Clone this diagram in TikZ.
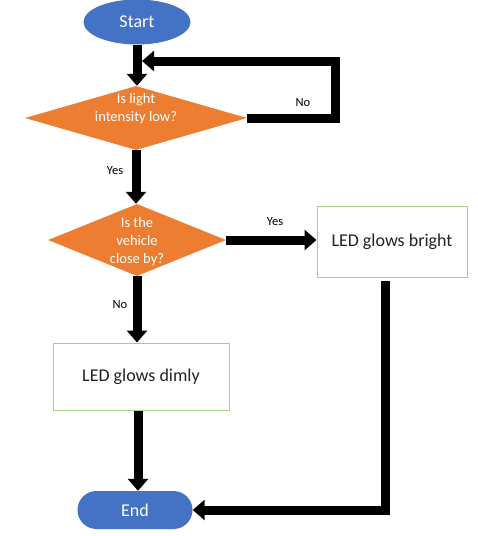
\documentclass[tikz,border=0pt]{standalone}
\usepackage{fontspec}
\setmainfont{Carlito}
\usetikzlibrary{shapes.geometric,arrows.meta}
\definecolor{termblue}{HTML}{4472C4}
\definecolor{decorange}{HTML}{ED7D31}
\definecolor{boxgreen}{HTML}{A3CF86}
\definecolor{boxtext}{HTML}{222222}
\tikzset{
  term/.style={fill=termblue,draw=none,text=white,font=\fontsize{18}{20}\selectfont},
  dia/.style={diamond,fill=decorange,draw=none,inner sep=0pt},
  diatext/.style={text=white,align=center,font=\fontsize{14.5}{18}\selectfont,inner sep=0pt},
  procbox/.style={rectangle,draw=boxgreen,line width=1pt,fill=white,text=boxtext,font=\fontsize{18}{20}\selectfont},
  conn/.style={line width=9pt,line join=miter,-{Triangle[width=20pt,length=12pt]}},
  lab/.style={font=\fontsize{12.5}{14}\selectfont,text=black,inner sep=0pt}
}
\begin{document}
\begin{tikzpicture}[x=1pt,y=-1pt]
\useasboundingbox (0,0) rectangle (478,536);
% nodes
\node[term,ellipse,minimum width=107pt,minimum height=45pt] (start) at (137,22) {Start};
\node[dia,minimum width=222pt,minimum height=64pt] (d1) at (136,118) {};
\node[diatext] (d1t) at (136,109) {Is light\\intensity low?};
\node[dia,minimum width=178pt,minimum height=72pt] (d2) at (137,240) {};
\node[diatext] (d2t) at (137,241.5) {Is the\\vehicle\\close by?};
\node[procbox,minimum width=150pt,minimum height=71pt] (bright) at (392,241.5) {LED glows bright};
\node[procbox,minimum width=176pt,minimum height=67pt] (dimly) at (141,376.5) {LED glows dimly};
\node[term,rectangle,rounded corners=19pt,minimum width=115pt,minimum height=38pt] (end) at (135,510) {End};
% helper coordinates
\coordinate (loopR) at (335,61);
\coordinate (loopend) at (142,61);
\coordinate (bdrop) at (385,281);
% connectors
\draw[conn] (start.south) -- (start.south |- d1.north);
\draw[conn] (d1.east) -| (loopR) -- (loopend);
\draw[conn] (d1.south) -- (d1.south |- d2.north);
\draw[conn] (d2.east) -- (d2.east -| bright.west);
\draw[conn] (d2.south) -- (d2.south |- dimly.north);
\draw[conn] ([xshift=-3pt]dimly.south) -- ([xshift=-3pt]dimly.south |- end.north);
\draw[conn] (bdrop) |- (end.east);
% labels
\node[lab] (lno1) at (303,103) {No};
\node[lab] (lyes1) at (115,171) {Yes};
\node[lab] (lyes2) at (275,222) {Yes};
\node[lab] (lno2) at (120,305) {No};
\end{tikzpicture}
\end{document}
